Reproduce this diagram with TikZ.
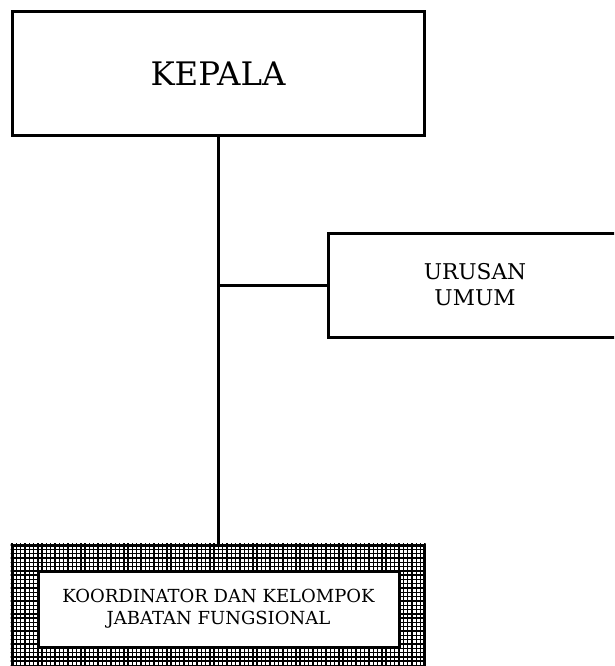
\documentclass[tikz,border=0pt]{standalone}
\usepackage{fontspec}
\setmainfont{DejaVu Serif}
\usetikzlibrary{positioning}
\tikzset{
x=1pt, y=1pt, % one unit is one point
kotak/.style={draw, rectangle, align=center, inner sep=0pt, fill=white, line width=3pt}, % plain office box
garis/.style={line width=3pt}, % the joining lines
}

\begin{document}
\begin{tikzpicture}

\clip (0,0) rectangle (614,-666);
\useasboundingbox (0,0) rectangle (614,-666);

\node[kotak, minimum width=412, minimum height=123, font=\fontsize{32.4}{38}\selectfont] at (218,-73.5) (kepala) {KEPALA};
\node[kotak, minimum width=294, minimum height=104, font=\fontsize{21.7}{26}\selectfont] at (475,-285) (urusan) {URUSAN\\UMUM};

% frame with the grid round the functional group
\node[draw, rectangle, minimum width=412, minimum height=128, line width=3pt] at (218,-609) (luar) {};
\begin{scope}
\clip (luar.south west) rectangle (luar.north east);
\foreach \i in {0,...,100} \draw[line width=1.4pt] (12+\i*4.3,-540) -- (12+\i*4.3,-680);
\foreach \j in {0,...,32} \draw[line width=1.4pt] (5,-545-\j*4.3) -- (430,-545-\j*4.3);
\end{scope}
\node[kotak, minimum width=361, minimum height=76, font=\fontsize{18}{22}\selectfont] at (218.5,-609) (koordinator) {KOORDINATOR DAN KELOMPOK\\JABATAN FUNGSIONAL};

\coordinate (cabang) at (kepala.south |- urusan.west);

\draw[garis] (kepala.south) -- (luar.north);
\draw[garis] (cabang) -- (urusan.west);

\end{tikzpicture}
\end{document}
